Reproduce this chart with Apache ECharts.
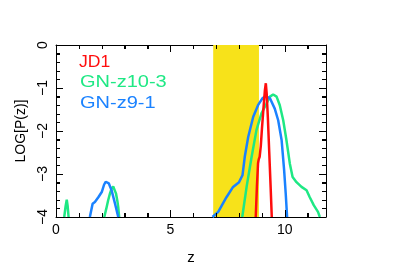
<!DOCTYPE html>
<html><head><meta charset="utf-8">
<script src="https://cdn.jsdelivr.net/npm/echarts@6/dist/echarts.min.js"></script>
<style>html,body{margin:0;padding:0;background:#fff}#c{width:393px;height:264px}</style>
</head><body><div id="c"></div>
<script>
// Data
const xTickLabels = [0, 5, 10];
const yTickLabels = [0, -1, -2, -3, -4];
const xTickValues = [0, 1, 2, 3, 4, 5, 6, 7, 8, 9, 10, 11];
const yTickValues = [-4, -3.8, -3.6, -3.4, -3.2, -3, -2.8, -2.6, -2.4, -2.2, -2, -1.8, -1.6, -1.4, -1.2, -1, -0.8, -0.6, -0.4, -0.2, 0];
const band = [6.87, 8.87];

const jd1Z    = [8.73, 8.78, 8.83, 8.86, 8.9, 8.95, 9.0, 9.07, 9.13, 9.17, 9.21, 9.26, 9.32, 9.38, 9.43];
const jd1LogP = [-4.0, -3.3, -2.75, -2.66, -2.6, -2.35, -1.95, -1.45, -1.05, -0.89, -1.15, -1.7, -2.5, -3.3, -4.0];

const gnz10Z1    = [0.36, 0.42, 0.47, 0.51, 0.55];
const gnz10LogP1 = [-4.0, -3.75, -3.6, -3.75, -4.0];
const gnz10Z2    = [2.11, 2.2, 2.28, 2.36, 2.43, 2.5, 2.56, 2.62, 2.68, 2.72, 2.76];
const gnz10LogP2 = [-4.0, -3.8, -3.61, -3.45, -3.34, -3.29, -3.33, -3.45, -3.62, -3.77, -4.0];
const gnz10Z3    = [8.14, 8.33, 8.55, 8.76, 8.98, 9.2, 9.35, 9.49, 9.64, 9.78, 9.93, 10.07, 10.22, 10.34, 10.51, 10.73, 10.95, 11.09, 11.27, 11.45, 11.53];
const gnz10LogP3 = [-4.0, -3.3, -2.6, -1.98, -1.59, -1.36, -1.2, -1.15, -1.2, -1.4, -1.75, -2.21, -2.76, -3.07, -3.19, -3.3, -3.38, -3.54, -3.73, -3.88, -4.0];

const gnz9Z1    = [1.48, 1.6, 1.7, 1.85, 2.0, 2.1, 2.17, 2.25, 2.31, 2.43, 2.58, 2.72];
const gnz9LogP1 = [-4.0, -3.69, -3.65, -3.54, -3.42, -3.25, -3.18, -3.19, -3.22, -3.38, -3.69, -4.0];
const gnz9Z2    = [6.84, 7.09, 7.45, 7.74, 8.0, 8.15, 8.25, 8.4, 8.62, 8.83, 9.02, 9.17, 9.35, 9.56, 9.71, 9.86, 9.97, 10.04, 10.1];
const gnz9LogP2 = [-4.0, -3.88, -3.54, -3.3, -3.19, -3.03, -2.6, -2.14, -1.67, -1.4, -1.24, -1.19, -1.24, -1.48, -1.75, -2.21, -2.91, -3.46, -4.0];

const RED = '#ff0d0d', GREEN = '#1ee884', BLUE = '#1a82ff', YELLOW = '#f7e21a';
const FONT = 'Liberation Sans';
const XMIN = 0, XMAX = 11.8, YMIN = -4, YMAX = 0;

const zip = (a, b) => a.map((v, i) => [v, b[i]]);
const minus = v => (v < 0 ? '\u2212' + Math.abs(v) : String(v));

function xAx(pos, labels, name) {
  return {
    type: 'value', position: pos, min: XMIN, max: XMAX, interval: 1,
    axisLine: { show: true, onZero: false, lineStyle: { color: '#000', width: 1 } },
    splitLine: { show: false },
    axisTick: { show: true, inside: true, length: 4, lineStyle: { color: '#000', width: 1 } },
    axisLabel: labels ? {
      show: true, margin: 6, fontSize: 14, fontFamily: FONT, color: '#000',
      formatter: v => (xTickLabels.indexOf(v) >= 0 ? minus(v) : '')
    } : { show: false },
    name: name || '', nameLocation: 'middle', nameGap: 33,
    nameTextStyle: { fontSize: 15, fontFamily: FONT, color: '#000' }
  };
}
function yAx(pos, labels, name) {
  return {
    type: 'value', position: pos, min: YMIN, max: YMAX, interval: 1,
    axisLine: { show: true, onZero: false, lineStyle: { color: '#000', width: 1 } },
    splitLine: { show: false },
    axisTick: { show: true, inside: true, length: 7, lineStyle: { color: '#000', width: 1 } },
    minorTick: { show: true, splitNumber: 5, length: 4, lineStyle: { color: '#000', width: 1 } },
    axisLabel: labels ? {
      show: true, margin: 6, rotate: 90, fontSize: 14, fontFamily: FONT, color: '#000',
      formatter: v => (yTickLabels.indexOf(v) >= 0 ? minus(v) : '')
    } : { show: false },
    name: name || '', nameLocation: 'middle', nameGap: 28, nameRotate: 90,
    nameTextStyle: { fontSize: 14, fontFamily: FONT, color: '#000' }
  };
}

function line(data, color) {
  return {
    type: 'line', data: data, xAxisIndex: 0, yAxisIndex: 0, symbol: 'none', z: 3,
    lineStyle: { color: color, width: 2.5 }, clip: true, animation: false
  };
}

// Tick marks as thin filled rectangles placed through the axis scales
const tickFill = { fill: '#000' };
const xTickSeries = {
  type: 'custom', xAxisIndex: 0, yAxisIndex: 0, z: 6, silent: true, clip: false,
  data: xTickValues.map(v => [v, YMIN]),
  encode: { x: 0, y: 1 },
  renderItem: (params, api) => {
    const v = api.value(0);
    const len = xTickLabels.indexOf(v) >= 0 ? 7 : 4;
    const b = api.coord([v, YMIN]), t = api.coord([v, YMAX]);
    const x = Math.round(b[0]);
    return { type: 'group', children: [
      { type: 'rect', shape: { x: x, y: Math.round(b[1]) - len, width: 1, height: len }, style: tickFill },
      { type: 'rect', shape: { x: x, y: Math.round(t[1]), width: 1, height: len }, style: tickFill }
    ] };
  }
};
const yTickSeries = {
  type: 'custom', xAxisIndex: 0, yAxisIndex: 0, z: 6, silent: true, clip: false,
  data: yTickValues.map(v => [XMIN, v]),
  encode: { x: 0, y: 1 },
  renderItem: (params, api) => {
    const v = api.value(1);
    const len = yTickLabels.indexOf(v) >= 0 ? 7 : 4;
    const l = api.coord([XMIN, v]), r = api.coord([XMAX, v]);
    const y = Math.round(l[1]);
    return { type: 'group', children: [
      { type: 'rect', shape: { x: Math.round(l[0]), y: y, width: len, height: 1 }, style: tickFill },
      { type: 'rect', shape: { x: Math.round(r[0]) - len, y: y, width: len, height: 1 }, style: tickFill }
    ] };
  }
};

const chart = echarts.init(document.getElementById('c'), null, { renderer: 'canvas' });
chart.setOption({
  animation: false,
  grid: { left: 56, right: 67, top: 45, bottom: 47, show: false, containLabel: false, outerBoundsMode: 'none' },
  xAxis: [ xAx('bottom', true, 'z'), xAx('top', false) ],
  yAxis: [ yAx('left', true, 'LOG[P(z)]'), yAx('right', false) ],
  series: [
    {
      type: 'line', data: [], xAxisIndex: 0, yAxisIndex: 0, z: 1, silent: true,
      markArea: {
        silent: true,
        itemStyle: { color: YELLOW, opacity: 1 },
        data: [[{ xAxis: band[0], yAxis: YMIN }, { xAxis: band[1], yAxis: YMAX }]]
      }
    },
    line(zip(gnz10Z1, gnz10LogP1), GREEN),
    line(zip(gnz10Z2, gnz10LogP2), GREEN),
    line(zip(gnz10Z3, gnz10LogP3), GREEN),
    line(zip(gnz9Z1, gnz9LogP1), BLUE),
    line(zip(gnz9Z2, gnz9LogP2), BLUE),
    line(zip(jd1Z, jd1LogP), RED),
    xTickSeries,
    yTickSeries
  ],
  graphic: [
    { type: 'text', left: 79, top: 55, scaleX: 1.1, style: { text: 'JD1', fill: RED, font: '16px "Liberation Sans"' } },
    { type: 'text', left: 80, top: 75, scaleX: 1.25, style: { text: 'GN-z10-3', fill: GREEN, font: '16px "Liberation Sans"' } },
    { type: 'text', left: 80, top: 96, scaleX: 1.25, style: { text: 'GN-z9-1', fill: BLUE, font: '16px "Liberation Sans"' } }
  ]
});
</script></body></html>
